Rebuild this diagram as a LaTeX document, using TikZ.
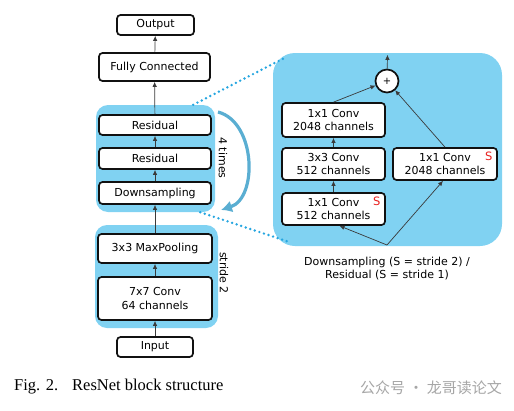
\documentclass[tikz,border=0pt]{standalone}
\usepackage{fontspec}
\setmainfont{DejaVu Sans}
\newfontfamily\capfont{Liberation Serif}
\newfontfamily\cjkfont{Noto Sans CJK SC}
\usetikzlibrary{arrows.meta,positioning,calc}
\definecolor{skyfill}{HTML}{80D2F2}
\definecolor{loopblue}{HTML}{5AAED2}
\definecolor{dotblue}{HTML}{26A6E0}
\definecolor{ink}{HTML}{111111}
\definecolor{wire}{HTML}{3A3A3A}
\definecolor{sred}{HTML}{E8201E}
\definecolor{wmgray}{HTML}{A6A6A6}
\tikzset{
  layerbox/.style={draw=ink,fill=white,line width=1.7pt,rounded corners=3.5pt,
                   inner sep=0pt,align=center,font=\fontsize{11}{13.5}\selectfont},
  stage/.style={fill=skyfill,rounded corners=12pt,inner sep=0pt},
  flowarr/.style={-{Latex[length=5pt,width=4.5pt]},line width=0.7pt,color=wire},
  linkdots/.style={dotblue,line width=2.7pt,dash pattern=on 0pt off 4.8pt,line cap=round},
  sidelbl/.style={rotate=-90,font=\fontsize{11}{12}\selectfont},
  smark/.style={text=sred,inner sep=0pt,font=\fontsize{11.5}{12}\selectfont}
}
\begin{document}
\begin{tikzpicture}[x=1pt,y=-1pt]
  \useasboundingbox (0,0) rectangle (514,410);
  % shaded stages
  \node[stage,minimum width=119pt,minimum height=107pt] (stgA) at (155.5,158.5) {};
  \node[stage,minimum width=123pt,minimum height=103pt] (stgB) at (156.5,276.5) {};
  \node[stage,rounded corners=22pt,minimum width=229pt,minimum height=193pt] (zoomA) at (387.5,149.5) {};
  \draw[linkdots] ([xshift=-22pt]stgA.north east) -- ([xshift=14pt,yshift=-4pt]zoomA.north west);
  \draw[linkdots] ([xshift=-15pt]stgA.south east) -- ([xshift=17pt,yshift=4pt]zoomA.south west);
  % main column
  \node[layerbox,minimum width=77pt,minimum height=20pt] (out) at (155.5,25) {Output};
  \node[layerbox,minimum width=111pt,minimum height=28pt] (fc) at (154.5,67) {Fully Connected};
  \node[layerbox,minimum width=112pt,minimum height=20pt] (r2) at (155,125) {Residual};
  \node[layerbox,minimum width=112pt,minimum height=21pt] (r1) at (155,158.5) {Residual};
  \node[layerbox,minimum width=112pt,minimum height=22pt] (dn) at (155,193) {Downsampling};
  \node[layerbox,minimum width=114pt,minimum height=29pt] (mp) at (155,248.5) {3x3 MaxPooling};
  \node[layerbox,minimum width=114pt,minimum height=43pt] (c7) at (155,298.5) {7x7 Conv\\64 channels};
  \node[layerbox,minimum width=76pt,minimum height=20pt] (inp) at (155,347) {Input};
  \draw[flowarr] (inp) -- (c7);
  \draw[flowarr] (c7) -- (mp);
  \draw[flowarr] (mp) -- (dn);
  \draw[flowarr] (dn) -- (r1);
  \draw[flowarr] (r1) -- (r2);
  \draw[flowarr] (r2) -- (fc);
  \draw[flowarr] (fc) -- (out);
  % repeat loop
  \coordinate (loopS) at (218,112);
  \coordinate (loopE) at (221,210);
  \draw[loopblue,line width=3.2pt,-{Latex[length=11pt,width=12pt]}]
    (loopS) .. controls (256,122) and (258,198) .. (loopE);
  \node[sidelbl] (rep) at (223,158) {4 times};
  \node[sidelbl] (strd) at (224,273) {stride 2};
  % bottleneck block
  \node[layerbox,minimum width=103pt,minimum height=32pt] (cA) at (333.5,209) {1x1 Conv\\512 channels};
  \node[layerbox,minimum width=103pt,minimum height=32pt] (cB) at (333.5,164) {3x3 Conv\\512 channels};
  \node[layerbox,minimum width=103pt,minimum height=34pt] (cC) at (333.5,120) {1x1 Conv\\2048 channels};
  \node[layerbox,minimum width=104pt,minimum height=32pt] (sc) at (445,164) {1x1 Conv\\2048 channels};
  \node[smark] (sA) at ([xshift=-9pt,yshift=-9pt]cA.north east) {S};
  \node[smark] (sB) at ([xshift=-9pt,yshift=-9pt]sc.north east) {S};
  \node[circle,draw=ink,fill=white,line width=1.7pt,minimum size=23pt,inner sep=0pt,
        font=\fontsize{10}{10}\selectfont] (add) at (387,81) {+};
  \coordinate (split) at (387,245);
  \draw[flowarr] (split) -- ([xshift=6pt]cA.south);
  \draw[flowarr] (split) -- ([xshift=-2pt]sc.south);
  \draw[flowarr] (cA) -- (cB);
  \draw[flowarr] (cB) -- (cC);
  \draw[flowarr] (cC.north) -- (add);
  \draw[flowarr] (sc.north) -- (add);
  \draw[flowarr] (add) -- ([yshift=-2pt]zoomA.north);
  \node[align=center,font=\fontsize{11}{13.5}\selectfont] (note) at (387,268.5)
    {Downsampling (S = stride 2) /\\Residual (S = stride 1)};
  % caption
  \node[anchor=base west,inner sep=0pt,font=\capfont\fontsize{16.5}{18}\selectfont] (fig) at (14,390) {Fig. 2.};
  \node[anchor=base west,inner sep=0pt,font=\capfont\fontsize{16.5}{18}\selectfont] (cap) at (72,390) {ResNet block structure};
  \node[anchor=base west,inner sep=0pt,text=wmgray,font=\cjkfont\fontsize{15}{16}\selectfont] (wm) at (360,393) {公众号 · 龙哥读论文};
\end{tikzpicture}
\end{document}
